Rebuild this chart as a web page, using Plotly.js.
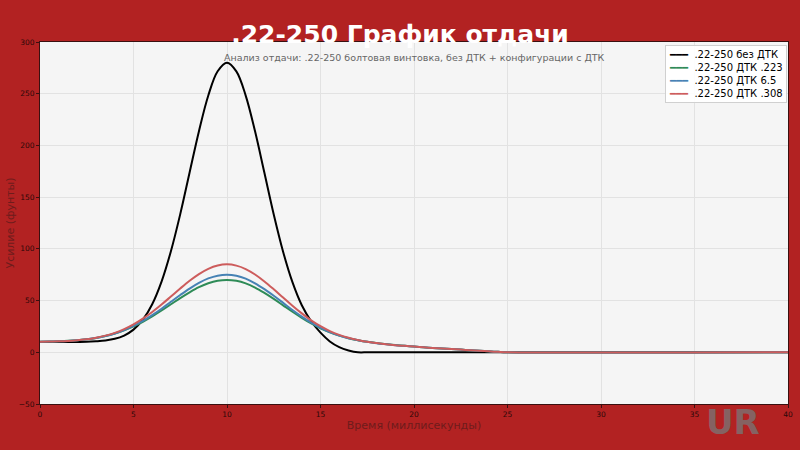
<!DOCTYPE html>
<html>
<head>
<meta charset="utf-8">
<script src="https://cdn.plot.ly/plotly-3.0.1.min.js"></script>
<style>html,body{margin:0;padding:0;background:#b22222;}#chart{width:800px;height:450px;}</style>
</head>
<body>
<div id="chart"></div>
<script>
// Time in milliseconds
const time = [0,0.5,1,1.5,2,2.5,3,3.5,4,4.5,5,5.5,6,6.5,7,7.5,8,8.5,9,9.5,10,
  10.5,11,11.5,12,12.5,13,13.5,14,14.5,15,15.5,16,16.5,17,17.5,18,18.5,19,19.5,20,
  20.5,21,21.5,22,22.5,23,23.5,24,24.5,25,40];

const seriesNames = ['.22-250 без ДТК', '.22-250 ДТК .223', '.22-250 ДТК 6.5', '.22-250 ДТК .308'];

// Recoil force (lbs)
const noBrake = [10,10,10,10,10,10.1,10.6,11.4,13,16.2,21.9,31.5,46.5,68.4,97.7,133.6,173.8,213.8,248.3,271.7,280,
  271.6,248.2,213.6,173.5,133.2,97.2,67.8,45.5,30,19,10.5,5,1.8,0,0,0,0,0,0,0,
  0,0,0,0,0,0,0,0,0,0,0];

const brake223 = [10.2,10.4,10.7,11.1,11.7,12.6,13.9,15.7,18.1,21.2,25,29.5,34.7,40.4,46.4,52.4,58,63,66.8,69.2,70,
  69.1,66.6,62.6,57.4,51.6,45.4,39.2,33.3,27.9,23.2,19.3,16.1,13.6,11.7,10.1,8.9,7.9,7,6.2,5.5,
  4.8,4.2,3.7,3.1,2.6,2,1.5,0.9,0.4,0,0];

const brake65 = [10.2,10.4,10.6,11,11.6,12.6,13.9,15.7,18.2,21.4,25.5,30.3,35.9,42.1,48.8,55.4,61.6,67.1,71.4,74.1,75,
  74,71.2,66.7,61,54.6,47.8,40.9,34.5,28.7,23.7,19.5,16.2,13.6,11.7,10.1,8.8,7.8,6.9,6.2,5.5,
  4.8,4.2,3.7,3.1,2.6,2,1.5,0.9,0.4,0,0];

const brake308 = [10.2,10.4,10.6,11,11.7,12.6,14.1,16.1,18.8,22.4,27,32.5,39,46.2,53.9,61.7,69.1,75.6,80.7,83.9,85,
  83.8,80.5,75.2,68.5,60.9,52.9,45,37.6,30.9,25.2,20.5,16.8,14,11.9,10.1,8.9,7.8,6.9,6.2,5.5,
  4.8,4.2,3.7,3.1,2.6,2,1.5,0.9,0.4,0,0];

const colors = ['#000000', '#2e8b57', '#4682b4', '#cd5c5c'];
const allSeries = [noBrake, brake223, brake65, brake308];

const traces = allSeries.map((ys, i) => ({
  x: time, y: ys, type: 'scatter', mode: 'lines', name: seriesNames[i],
  line: {color: colors[i], width: 2, shape: 'spline', smoothing: 1}
}));

// Compact legend box built from the series names and colours
const legendText = seriesNames.map((n, i) =>
  '<span style="color:' + colors[i] + '">━━━</span>  ' + n).join('<br>');

const tickFont = {family: 'DejaVu Sans', size: 7.5, color: '#2a0808'};
const axisTitleFont = {family: 'DejaVu Sans', size: 11, color: '#6e1c1c'};

const layout = {
  width: 800, height: 450,
  paper_bgcolor: '#b22222',
  plot_bgcolor: '#f5f5f5',
  margin: {l: 40, r: 12, t: 42, b: 46},
  showlegend: false,
  title: {
    text: '<b>.22-250 График отдачи</b>',
    font: {family: 'DejaVu Sans', size: 25, color: '#ffffff'},
    x: 0.5, xref: 'container', xanchor: 'center',
    y: 0.925, yref: 'container', yanchor: 'middle'
  },
  xaxis: {
    range: [0, 40], dtick: 5, tick0: 0,
    showgrid: true, gridcolor: '#e2e2e2', gridwidth: 1,
    zeroline: false, showline: true, linecolor: '#3a1010', linewidth: 1, mirror: true,
    ticks: 'outside', ticklen: 3, tickcolor: '#3a1010',
    tickfont: tickFont,
    title: {text: 'Время (миллисекунды)', font: axisTitleFont, standoff: 2}
  },
  yaxis: {
    range: [-50, 300], dtick: 50, tick0: 0,
    showgrid: true, gridcolor: '#e2e2e2', gridwidth: 1,
    zeroline: false, showline: true, linecolor: '#3a1010', linewidth: 1, mirror: true,
    ticks: 'outside', ticklen: 3, tickcolor: '#3a1010',
    tickfont: tickFont,
    title: {text: 'Усилие (фунты)', font: axisTitleFont, standoff: 1}
  },
  annotations: [
    {
      text: 'Анализ отдачи: .22-250 болтовая винтовка, без ДТК + конфигурации с ДТК',
      xref: 'paper', yref: 'paper', x: 0.5, y: 0.958, xanchor: 'center', yanchor: 'middle',
      showarrow: false, font: {family: 'DejaVu Sans', size: 9.5, color: '#666666'}
    },
    {
      text: legendText, align: 'left',
      xref: 'paper', yref: 'paper', x: 0.998, y: 0.992, xanchor: 'right', yanchor: 'top',
      showarrow: false, bgcolor: 'rgba(255,255,255,0.92)', bordercolor: '#d0d0d0', borderwidth: 1,
      borderpad: 3, font: {family: 'DejaVu Sans', size: 10, color: '#000000'}
    },
    {
      text: '<b>UR</b>',
      xref: 'paper', yref: 'paper', x: 0.926, y: -0.05, xanchor: 'center', yanchor: 'middle',
      showarrow: false, font: {family: 'DejaVu Sans', size: 34, color: 'rgba(125,110,110,0.85)'}
    }
  ]
};

Plotly.newPlot('chart', traces, layout, {displayModeBar: false, staticPlot: true});
</script>
</body>
</html>
